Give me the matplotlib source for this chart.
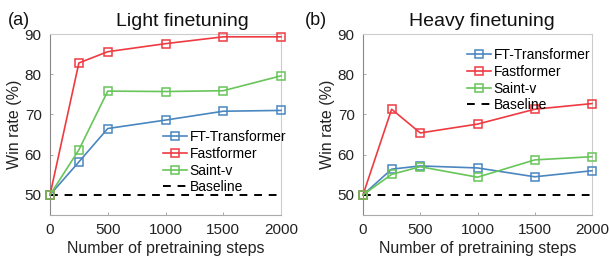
import matplotlib
matplotlib.use("Agg")
import matplotlib.pyplot as plt

plt.rcParams['font.family'] = ['Liberation Sans', 'DejaVu Sans']

steps = [0, 250, 500, 1000, 1500, 2000]

# light finetuning
light_ft = [50.0, 58.2, 66.5, 68.6, 70.8, 71.0]
light_fast = [50.0, 82.8, 85.6, 87.6, 89.3, 89.3]
light_saint = [50.0, 61.2, 75.8, 75.7, 75.9, 79.6]

# heavy finetuning
heavy_ft = [50.0, 56.4, 57.2, 56.7, 54.5, 56.0]
heavy_fast = [50.0, 71.3, 65.4, 67.6, 71.3, 72.7]
heavy_saint = [50.0, 55.1, 57.0, 54.4, 58.7, 59.5]

baseline = 50
names = ['FT-Transformer', 'Fastformer', 'Saint-v']
colors = ['#4a86c0', '#ee3b42', '#68c55a']

W, H = 609, 260
fig = plt.figure(figsize=(W / 100, H / 100), dpi=100)
ax1 = fig.add_axes([50 / W, 1 - 215 / H, 231 / W, 181 / H])
ax2 = fig.add_axes([363 / W, 1 - 215 / H, 229 / W, 181 / H])


def panel(ax, series, title, tag, title_x, tag_x, leg_xy):
    for vals, name, c in zip(series, names, colors):
        ax.plot(steps, vals, color=c, lw=1.2, marker='s', markersize=5.5,
                markerfacecolor='none', markeredgewidth=1.1, label=name,
                clip_on=False, zorder=3)
    ax.axhline(baseline, color='black', ls=(0, (4, 3.5)), lw=1.4, label='Baseline',
               zorder=2)
    ax.set_xlim(0, 2000)
    ax.set_ylim(45, 90)
    ax.set_xticks([0, 500, 1000, 1500, 2000])
    ax.set_yticks([50, 60, 70, 80, 90])
    ax.tick_params(direction='in', length=2.5, width=0.6, color='#999999',
                   labelsize=11, labelcolor='#222222', pad=6)
    for s in ax.spines.values():
        s.set_color('#cccccc')
        s.set_linewidth(0.8)
    ax.spines['left'].set_color('#888888')
    ax.spines['bottom'].set_color('#aaaaaa')
    ax.set_xlabel('Number of pretraining steps', fontsize=11.5, color='#222222', labelpad=3)
    ax.set_ylabel('Win rate (%)', fontsize=11.5, color='#222222', labelpad=2)
    fig.text(title_x / W, 1 - 26 / H, title, fontsize=14, ha='center', va='baseline',
             color='#111111')
    fig.text(tag_x / W, 1 - 25 / H, tag, fontsize=13, ha='left', va='baseline',
             color='#111111')
    ax.legend(loc='upper left', bbox_to_anchor=(leg_xy[0] / W, 1 - leg_xy[1] / H),
              bbox_transform=fig.transFigure, frameon=False, fontsize=10,
              handlelength=1.7, handletextpad=0.2, labelspacing=0.2,
              borderaxespad=0, borderpad=0)


panel(ax1, [light_ft, light_fast, light_saint], 'Light finetuning', '(a)', 182, 8, (163, 130))
panel(ax2, [heavy_ft, heavy_fast, heavy_saint], 'Heavy finetuning', '(b)', 482, 305, (467, 48))

fig.savefig('out.png', dpi=100)
